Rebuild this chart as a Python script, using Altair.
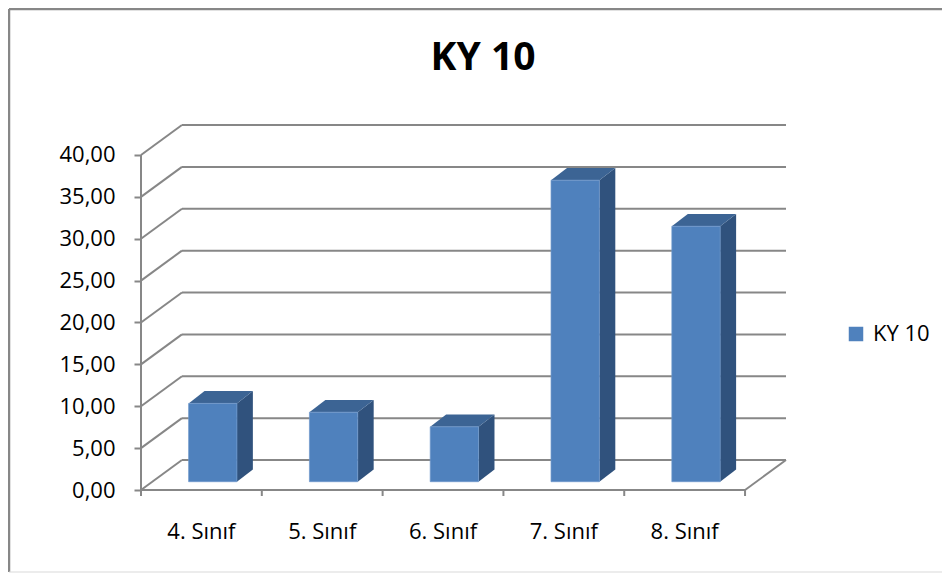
import altair as alt
import pandas as pd

# ---- data ----
CATEGORIES = ["4. Sınıf", "5. Sınıf", "6. Sınıf", "7. Sınıf", "8. Sınıf"]
VALUES = [9.35, 8.30, 6.55, 36.00, 30.50]
SERIES = "KY 10"
TITLE = "KY 10"
Y_TICKS = [0, 5, 10, 15, 20, 25, 30, 35, 40]
Y_MAX = 40

# ---- pseudo-3D geometry (data units: 1 = one category slot / one value unit) ----
WALL_DX, WALL_DY = 0.339, 3.58      # depth of the box (back wall offset)
BAR_DX0, BAR_DY0 = 0.094, 0.99      # depth at which the bars' front faces stand
BAR_W = 0.40                        # bar width
BAR_DDX, BAR_DDY = 0.132, 1.47      # bar depth

N = len(CATEGORIES)
W, H = 645, 365
FONT = "Open Sans"
GRID = "#878787"
FRONT, TOP, SIDE = "#4F81BD", "#3C6494", "#30527D"

xscale = alt.Scale(domain=[0, N + WALL_DX], nice=False, zero=False)
yscale = alt.Scale(domain=[0, Y_MAX + WALL_DY], nice=False, zero=False)
yaxis = alt.Axis(values=Y_TICKS, labelExpr="replace(format(datum.value, '.2f'), '.', ',')",
                 domain=False, grid=False, ticks=True, tickSize=7, tickWidth=2,
                 tickColor=GRID, labelPadding=19, labelFont=FONT, labelFontSize=22,
                 labelColor="#000000", title=None)


def X(f):
    return alt.X(f"{f}:Q", scale=xscale, axis=None)


def Y(f):
    return alt.Y(f"{f}:Q", scale=yscale, axis=yaxis, stack=False)


# ---- box lines (walls, floor, grid) ----
seg = []
for v in Y_TICKS:
    seg.append(dict(x=WALL_DX, x2=N + WALL_DX, y=v + WALL_DY, y2=v + WALL_DY))  # back wall grid
    seg.append(dict(x=0, x2=WALL_DX, y=v, y2=v + WALL_DY))                     # side wall grid
seg.append(dict(x=0, x2=N, y=0, y2=0))                      # floor front edge
seg.append(dict(x=N, x2=N + WALL_DX, y=0, y2=WALL_DY))      # floor right edge
seg.append(dict(x=0, x2=0, y=0, y2=Y_MAX))                  # front value axis
seg_df = pd.DataFrame(seg)

grid = alt.Chart(seg_df).mark_rule(color=GRID, strokeWidth=2).encode(
    x=X("x"), x2="x2:Q", y=Y("y"), y2="y2:Q")

xt_df = pd.DataFrame({"k": list(range(N + 1)), "y": [0] * (N + 1)})
xticks = alt.Chart(xt_df).mark_rule(color=GRID, strokeWidth=2).encode(
    x=X("k"), y=Y("y"), y2=alt.value(H + 6))

# ---- bars ----
front_rows, side_rows, top_rows = [], [], []
for i, (c, v) in enumerate(zip(CATEGORIES, VALUES)):
    xl = i + 0.5 + BAR_DX0 - BAR_W / 2
    xr = xl + BAR_W
    b = BAR_DY0
    t = BAR_DY0 + v
    front_rows.append(dict(cat=c, series=SERIES, x=xl, x2=xr, y=b, y2=t))
    side_rows += [dict(cat=c, x=xr, y=b, y2=t),
                  dict(cat=c, x=xr + BAR_DDX, y=b + BAR_DDY, y2=t + BAR_DDY)]
    top_rows += [dict(cat=c, x=xl, y=t, y2=t),
                 dict(cat=c, x=xl + BAR_DDX, y=t, y2=t + BAR_DDY),
                 dict(cat=c, x=xr, y=t, y2=t + BAR_DDY),
                 dict(cat=c, x=xr + BAR_DDX, y=t + BAR_DDY, y2=t + BAR_DDY)]

side = alt.Chart(pd.DataFrame(side_rows)).mark_area(orient="vertical", color=SIDE).encode(
    x=X("x"), y=Y("y"), y2="y2:Q", detail="cat:N")
top = alt.Chart(pd.DataFrame(top_rows)).mark_area(orient="vertical", color=TOP).encode(
    x=X("x"), y=Y("y"), y2="y2:Q", detail="cat:N")
front = alt.Chart(pd.DataFrame(front_rows)).mark_rect(stroke="#6E98CC", strokeWidth=0.7).encode(
    x=X("x"), x2="x2:Q", y=Y("y"), y2="y2:Q",
    color=alt.Color("series:N",
                    scale=alt.Scale(domain=[SERIES], range=[FRONT]),
                    legend=alt.Legend(orient="none", legendX=704, legendY=198, title=None,
                                      symbolType="square", symbolSize=210,
                                      symbolStrokeWidth=0, labelFont=FONT,
                                      labelFontSize=22, labelColor="#000000",
                                      labelOffset=6, padding=0)))

# ---- category labels ----
cat_df = pd.DataFrame({"cat": CATEGORIES, "pos": [i + 0.5 for i in range(N)]})
cats = alt.Chart(cat_df).mark_text(font=FONT, fontSize=22, color="#000000",
                                   baseline="middle", align="center").encode(
    x=X("pos"), y=alt.value(407), text="cat:N")

# ---- title ----
title = alt.Chart(pd.DataFrame({"t": [TITLE]})).mark_text(
    font=FONT, fontSize=39, fontWeight="bold", color="#000000",
    baseline="alphabetic", align="center").encode(
    x=alt.value(342), y=alt.value(-55), text="t:N")

# ---- chart area border ----
one = pd.DataFrame({"k": [0]})
b_left = alt.Chart(one).mark_rule(color=GRID, strokeWidth=2.5).encode(
    x=alt.value(-132), y=alt.value(-116), y2=alt.value(447))
b_top = alt.Chart(one).mark_rule(color=GRID, strokeWidth=2.5).encode(
    x=alt.value(-132), x2=alt.value(W + 200), y=alt.value(-116))
b_bot = alt.Chart(one).mark_rule(color="#d9d9d9", strokeWidth=1).encode(
    x=alt.value(-132), x2=alt.value(W + 200), y=alt.value(447))

chart = alt.layer(b_left, b_top, b_bot, grid, xticks, side, top, front, cats, title).properties(
    width=W, height=H,
    autosize=alt.AutoSizeParams(type="none"),
    padding={"left": 133, "top": 117, "right": 156, "bottom": 83},
    background="white",
).configure_view(strokeWidth=0)

chart.save("out.html", embed_options={"renderer": "svg", "actions": False})
